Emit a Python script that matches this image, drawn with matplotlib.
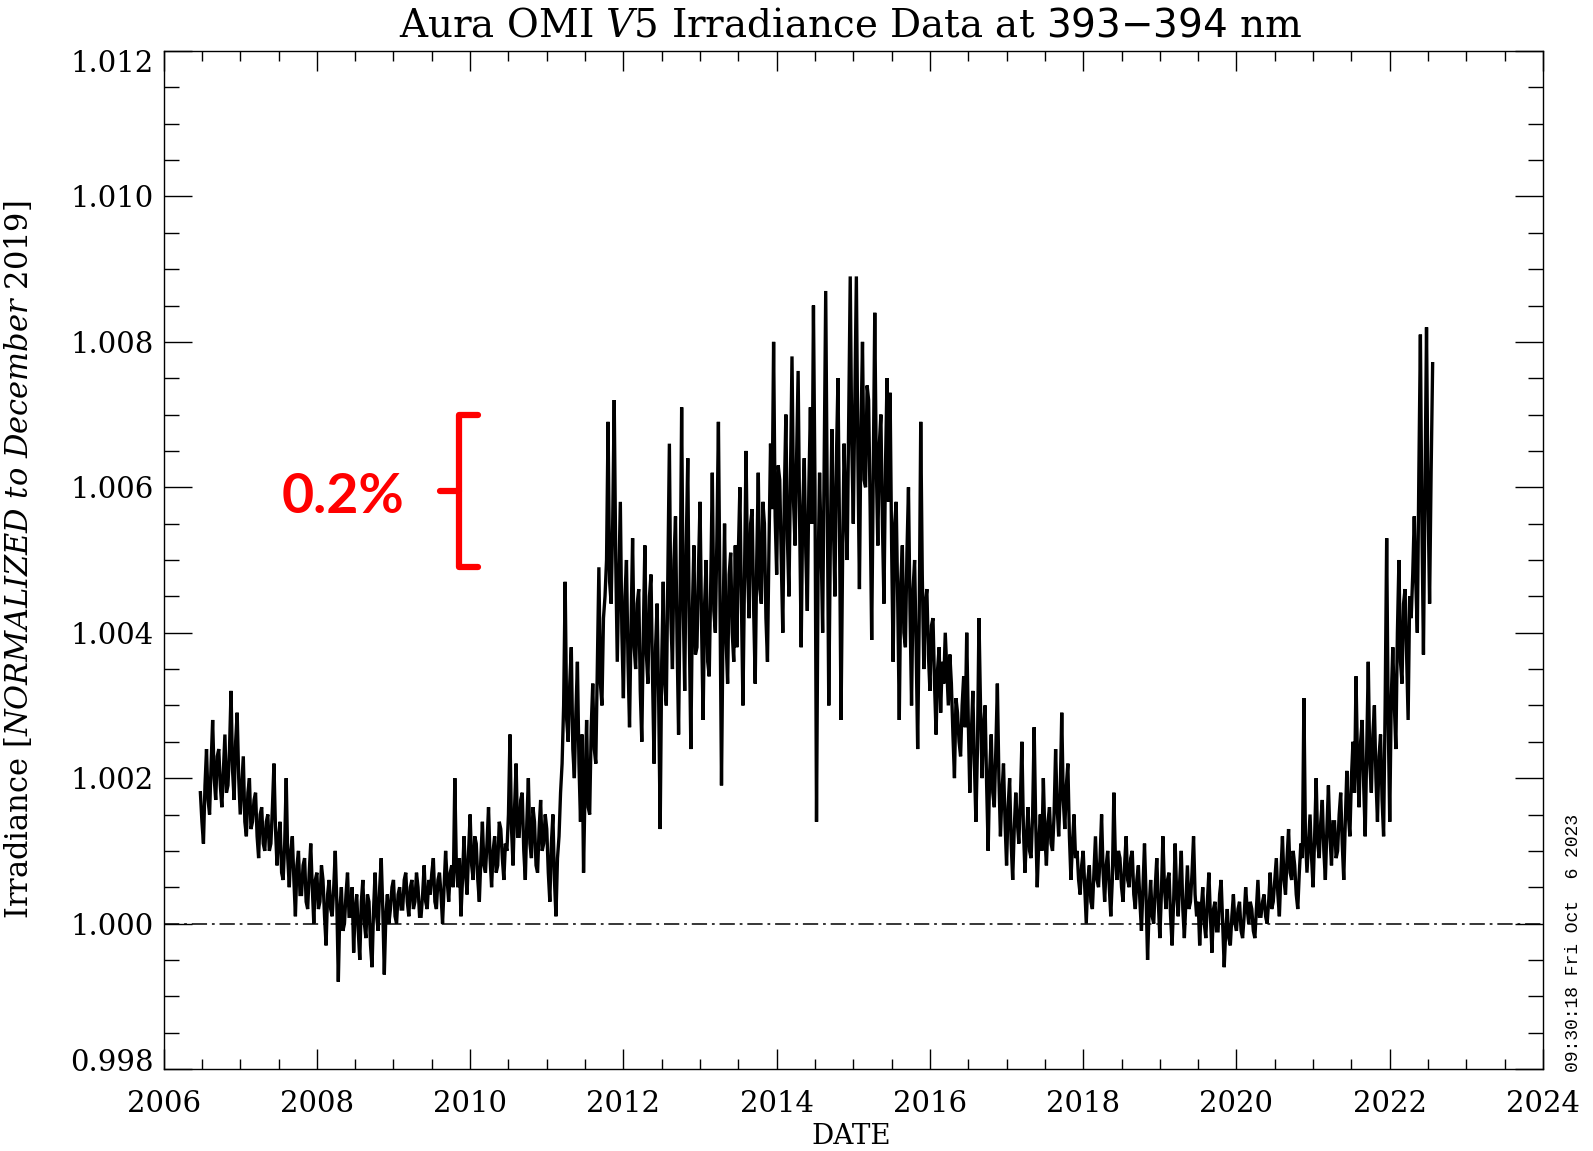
import numpy as np
import matplotlib
matplotlib.use("Agg")
import matplotlib.pyplot as plt
from matplotlib.ticker import MultipleLocator, FormatStrFormatter
from matplotlib.transforms import ScaledTranslation

# ---------------- data ----------------
start_year = 2006.48      # first sample (decimal year)
step_year = 0.02          # spacing between samples (years)

# irradiance departure from 1.0, in units of 1e-4, one list per year of samples
dev_2006 = [18, 14, 11, 19, 24, 17, 15, 22, 28, 20, 17, 23, 24, 19, 16, 21, 26, 18, 19, 24, 32, 21, 17, 25, 29,
            20, 15, 19, 23, 14, 12, 18, 20, 13, 14, 17, 18, 12, 9, 15, 16, 11, 10, 14, 15, 10, 11, 16, 22, 13]
dev_2007 = [8, 12, 14, 7, 6, 11, 20, 9, 5, 10, 12, 6, 1, 8, 10, 4, 4, 8, 9, 3, 2, 7, 11, 5, 0,
            6, 7, 2, 3, 8, 6, 1, -3, 4, 6, 2, 1, 5, 10, 3, -8, 2, 5, -1, 0, 4, 7, 1, 1, 5]
dev_2008 = [-4, 2, 4, -1, -5, 3, 6, 0, -2, 4, 3, -3, -6, 2, 7, 1, -1, 5, 9, 2, -7, 1, 4, 0, 2,
            5, 6, 1, 0, 4, 5, 2, 2, 6, 7, 3, 1, 5, 6, 2, 3, 7, 5, 1, 1, 4, 8, 3, 2, 6]
dev_2009 = [4, 7, 9, 3, 2, 6, 7, 4, 0, 5, 10, 6, 3, 7, 8, 5, 20, 8, 5, 9, 1, 6, 12, 7, 4,
            10, 15, 8, 6, 12, 11, 6, 3, 9, 14, 8, 7, 11, 16, 9, 5, 10, 12, 7, 8, 14, 13, 9, 6, 11]
dev_2010 = [10, 15, 26, 13, 8, 16, 22, 12, 12, 17, 18, 10, 6, 14, 20, 11, 9, 16, 14, 8, 7, 13, 17, 10, 11,
            15, 13, 7, 3, 11, 15, 6, 1, 9, 12, 18, 22, 30, 47, 28, 25, 33, 38, 24, 20, 29, 36, 22, 14, 26]
dev_2011 = [7, 19, 28, 16, 15, 27, 33, 24, 22, 36, 49, 33, 30, 42, 45, 50, 69, 47, 44, 55, 72, 50, 36, 47, 58,
            40, 31, 45, 50, 36, 27, 41, 53, 38, 35, 44, 46, 32, 25, 40, 52, 37, 33, 45, 48, 34, 22, 38, 44, 31]
dev_2012 = [13, 36, 47, 33, 30, 48, 66, 42, 35, 50, 56, 39, 26, 45, 71, 44, 32, 52, 64, 40, 24, 43, 52, 37, 38,
            49, 58, 41, 28, 44, 50, 36, 34, 47, 62, 43, 40, 53, 69, 45, 19, 41, 55, 39, 33, 48, 51, 40, 36, 52]
dev_2013 = [38, 51, 60, 44, 30, 47, 65, 49, 42, 55, 57, 43, 33, 50, 62, 46, 44, 58, 55, 42, 36, 52, 66, 57, 80,
            56, 48, 63, 61, 50, 40, 59, 70, 53, 45, 62, 78, 58, 52, 64, 76, 55, 38, 57, 64, 51, 43, 60, 71, 55]
dev_2014 = [85, 60, 14, 48, 62, 52, 40, 63, 87, 58, 30, 52, 68, 55, 45, 64, 75, 54, 28, 50, 66, 57, 50, 70, 89,
            66, 55, 72, 89, 64, 46, 68, 80, 61, 60, 74, 72, 57, 39, 62, 84, 63, 52, 66, 70, 55, 44, 63, 75, 58]
dev_2015 = [73, 52, 36, 55, 58, 44, 28, 47, 52, 40, 38, 51, 60, 43, 30, 46, 50, 38, 24, 42, 69, 48, 35, 44, 46,
            37, 32, 41, 42, 33, 26, 35, 38, 29, 36, 33, 40, 35, 30, 37, 33, 26, 20, 31, 29, 25, 23, 30, 34, 27]
dev_2016 = [40, 28, 18, 26, 32, 22, 14, 24, 42, 30, 20, 27, 30, 19, 10, 21, 26, 18, 16, 24, 33, 20, 12, 18, 22,
            14, 8, 16, 20, 11, 6, 13, 18, 14, 11, 17, 25, 13, 7, 12, 16, 10, 9, 15, 27, 14, 5, 11, 15, 10]
dev_2017 = [20, 12, 8, 14, 16, 11, 10, 15, 24, 16, 12, 18, 29, 17, 13, 19, 22, 12, 6, 11, 15, 9, 10, 6, 4,
            8, 10, 5, 0, 6, 8, 3, 2, 7, 12, 6, 5, 9, 15, 7, 3, 8, 10, 5, 1, 6, 18, 9, 6, 10]
dev_2018 = [9, 5, 3, 8, 12, 6, 5, 9, 10, 4, 2, 6, 8, 3, -1, 5, 11, 4, -5, 2, 6, 1, 0, 5, 9,
            3, -2, 4, 12, 5, 2, 6, 7, 1, -3, 3, 11, 4, 1, 6, 10, 2, -2, 3, 8, 2, 3, 7, 12, 4]
dev_2019 = [1, 3, -3, 2, 5, 0, -2, 3, 7, 1, -4, 2, 3, -1, -1, 4, 6, 0, -6, -1, 2, -2, -3, 1, 4,
            0, -1, 2, 3, -1, -2, 1, 5, 2, 0, 3, 2, -1, -2, 2, 6, 1, 1, 3, 4, 1, 0, 3, 7, 2]
dev_2020 = [3, 6, 9, 4, 1, 7, 12, 6, 4, 9, 13, 7, 6, 10, 8, 4, 2, 7, 11, 9, 31, 12, 7, 11, 15,
            9, 5, 12, 20, 11, 9, 14, 17, 10, 6, 13, 19, 12, 8, 14, 14, 9, 10, 15, 18, 11, 6, 14, 21, 15]
dev_2021 = [12, 20, 25, 18, 34, 22, 16, 25, 28, 19, 12, 24, 36, 22, 18, 26, 30, 20, 14, 23, 26, 17, 12, 30, 53,
            28, 14, 31, 38, 30, 24, 40, 50, 36, 33, 44, 46, 37, 28, 45, 42, 48, 56, 47, 40, 62, 81, 55, 37, 60]
dev_2022 = [82, 58, 44, 62, 77]

x_ticks = [2006, 2008, 2010, 2012, 2014, 2016, 2018, 2020, 2022, 2024]
y_ticks = [0.998, 1.000, 1.002, 1.004, 1.006, 1.008, 1.010, 1.012]

title_txt = r"Aura OMI $\mathit{V5}$ Irradiance Data at $\mathsf{393{-}394}$ nm"
ylabel_txt = r"Irradiance [$\mathit{NORMALIZED\ to\ December\ 2019}$]"
xlabel_txt = "DATE"
stamp_txt = "09:30:18 Fri Oct  6 2023"
note_txt = "0.2%"

# ---------------- style ----------------
plt.rcParams['font.family'] = ['DejaVu Serif']
plt.rcParams['mathtext.fontset'] = 'custom'
plt.rcParams['mathtext.rm'] = 'DejaVu Serif'
plt.rcParams['mathtext.it'] = 'DejaVu Serif:italic'
plt.rcParams['mathtext.sf'] = 'DejaVu Sans'
plt.rcParams['lines.scale_dashes'] = False

dev = np.concatenate([dev_2006, dev_2007, dev_2008, dev_2009, dev_2010, dev_2011,
                      dev_2012, dev_2013, dev_2014, dev_2015, dev_2016, dev_2017,
                      dev_2018, dev_2019, dev_2020, dev_2021, dev_2022])
irr = 1.0 + dev * 1e-4
dates = start_year + step_year * np.arange(len(irr))

W, H = 1593, 1151
fig = plt.figure(figsize=(W / 100, H / 100), dpi=100)
ax_l, ax_r, ax_t, ax_b = 163.6, 1543.0, 51.0, 1069.0
ax = fig.add_axes([ax_l / W, 1 - ax_b / H, (ax_r - ax_l) / W, (ax_b - ax_t) / H])

ax.plot(dates, irr, color='black', lw=2.4, solid_joinstyle='miter')
ax.axhline(1.0, color='black', lw=1.1, dashes=(11, 3.5, 2, 3.5))

ax.set_xlim(2006, 2024)
ax.set_ylim(0.998, 1.012)
ax.set_xticks(x_ticks)
ax.set_yticks(y_ticks)
ax.xaxis.set_minor_locator(MultipleLocator(0.5))
ax.yaxis.set_minor_locator(MultipleLocator(0.0005))
ax.yaxis.set_major_formatter(FormatStrFormatter('%.3f'))
ax.xaxis.set_major_formatter(FormatStrFormatter('%d'))

for s in ax.spines.values():
    s.set_linewidth(1.0)
ax.tick_params(axis='both', which='both', direction='in', top=True, right=True,
               width=1.0, labelsize=21, colors='black')
ax.tick_params(axis='x', which='major', length=14.4, pad=15)
ax.tick_params(axis='x', which='minor', length=7.2)
ax.tick_params(axis='y', which='major', length=20, pad=7)
ax.tick_params(axis='y', which='minor', length=10.5)

ax.set_ylabel(ylabel_txt, fontsize=22)
ax.yaxis.set_label_coords((35.5 - ax_l) / (ax_r - ax_l), 0.5)

fig.text(851 / W, 1 - 36.6 / H, title_txt, ha='center', va='baseline', fontsize=28)
fig.text(851 / W, 1 - 1137 / H, xlabel_txt, ha='center', va='center', fontsize=20)
fig.text(1573 / W, 1 - 1072 / H, stamp_txt, rotation=90, ha='center', va='bottom',
         fontsize=13, family=['Liberation Mono', 'DejaVu Sans Mono'])

# red "0.2%" bracket annotation
brk_x, brk_tip, brk_arm = 2009.856, 2009.61, 2010.10
brk_lo, brk_mid, brk_hi = 1.0049, 1.00595, 1.0070
red = '#ff0000'
ax.plot([brk_arm, brk_x, brk_x, brk_arm], [brk_hi, brk_hi, brk_lo, brk_lo],
        color=red, lw=4.5, solid_capstyle='round', solid_joinstyle='round')
ax.plot([brk_tip, brk_x], [brk_mid, brk_mid], color=red, lw=4.5, solid_capstyle='round')
ax.text(2008.34, 1.00564, note_txt, color=red, fontsize=40, fontweight='bold',
        family=['Lato', 'DejaVu Sans'], ha='center', va='baseline')

# IDL-style: end labels of the y axis are nudged inward
fig.canvas.draw()
yt = ax.yaxis.get_major_ticks()
yt[0].label1.set_transform(yt[0].label1.get_transform() + ScaledTranslation(0, 0.09, fig.dpi_scale_trans))
yt[-1].label1.set_transform(yt[-1].label1.get_transform() + ScaledTranslation(0, -0.10, fig.dpi_scale_trans))

fig.savefig('out.png', dpi=100)
